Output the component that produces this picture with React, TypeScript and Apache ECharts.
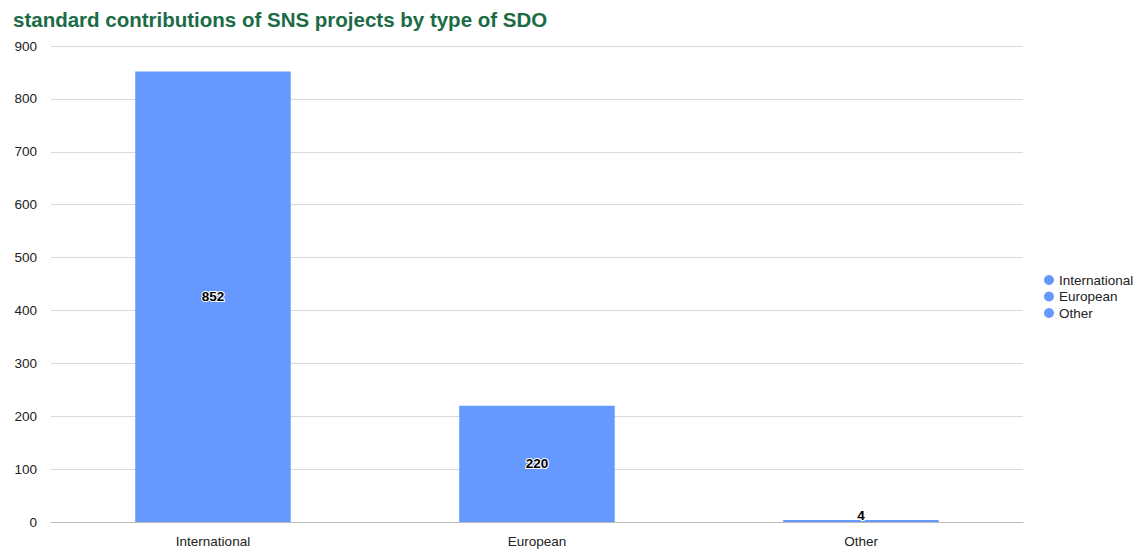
import React, { useEffect, useRef } from "react";
import * as echarts from "echarts";

const categories = ["International", "European", "Other"];
const values = [852, 220, 4];
const yTicks = { min: 0, max: 900, interval: 100 };
const barColor = "#6699ff";

export default function App() {
  const ref = useRef<HTMLDivElement>(null);
  useEffect(() => {
    if (!ref.current) return;
    const chart = echarts.init(ref.current, null, { renderer: "svg" });
    const font = "'Liberation Sans', Arial, sans-serif";
    const series = categories.map((name, i) => ({
      name,
      type: "bar",
      stack: "s",
      barWidth: "48%",
      itemStyle: { color: barColor },
      data: categories.map((_, j) => (j === i ? values[i] : null)),
      label: {
        show: true,
        position: values[i] < 30 ? "top" : "inside",
        distance: -3,
        color: "#000",
        fontWeight: "bold",
        fontSize: 13.5,
        fontFamily: font,
        textBorderColor: "#fff",
        textBorderWidth: 2,
      },
    }));
    chart.setOption({
      animation: false,
      textStyle: { fontFamily: font },
      title: {
        text: "standard contributions of SNS projects by type of SDO",
        left: 8,
        top: 4,
        textStyle: { color: "#1b6b46", fontSize: 20.5, fontWeight: "bold", fontFamily: font },
      },
      legend: {
        orient: "vertical",
        left: 1039,
        top: 268,
        icon: "circle",
        itemWidth: 10,
        itemHeight: 10,
        itemGap: 2.5,
        textStyle: { fontSize: 13.5, color: "#222", fontFamily: font },
        data: categories,
      },
      grid: { left: 51, right: 119, top: 46, bottom: 30, containLabel: false },
      xAxis: {
        type: "category",
        data: categories,
        axisTick: { show: false },
        axisLine: { lineStyle: { color: "#bbb" } },
        axisLabel: { color: "#222", fontSize: 13.5, margin: 12, fontFamily: font },
      },
      yAxis: {
        type: "value",
        min: yTicks.min,
        max: yTicks.max,
        interval: yTicks.interval,
        axisLabel: { color: "#222", fontSize: 13.5, margin: 14, fontFamily: font },
        splitLine: { lineStyle: { color: "#d9d9d9" } },
      },
      series,
    });
    return () => chart.dispose();
  }, []);
  return (
    <div
      ref={ref}
      style={{ position: "fixed", left: 0, top: 0, width: 1142, height: 552, background: "#fff" }}
    />
  );
}
